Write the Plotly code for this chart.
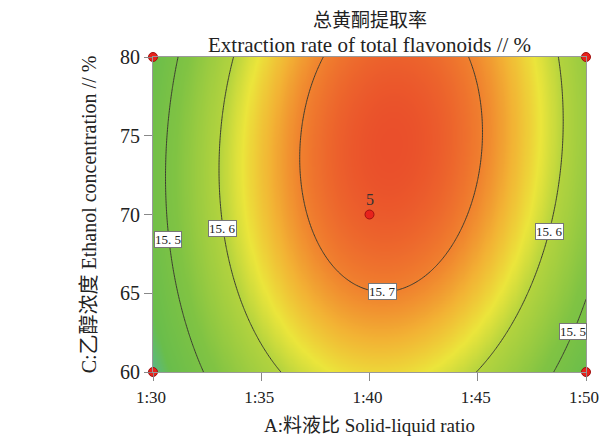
import numpy as np
import plotly.graph_objects as go

# ---- data ----
x_ticks = [30, 35, 40, 45, 50]
x_ticklabels = ["1:30", "1:35", "1:40", "1:45", "1:50"]
y_ticks = [60, 65, 70, 75, 80]

# fitted quadratic response-surface model (coded factors A, C)
b0, bA, bC, bAC, bAA, bCC = 15.729, 0.0365, 0.0384, 0.0178, -0.2221, -0.0457

contour_levels = [15.5, 15.6, 15.7]

design_x = [30, 30, 50, 50, 40]
design_y = [60, 80, 60, 80, 70]
center_reps = "5"

# label anchors: (level, y-value, side)
label_specs = [(15.5, 68.4, "left"), (15.6, 69.1, "left"), (15.7, 65.6, "bottom"),
               (15.6, 68.9, "right"), (15.5, 62.6, "right")]


def model(x, y):
    A = (x - 40) / 10
    C = (y - 70) / 10
    return b0 + bA * A + bC * C + bAC * A * C + bAA * A ** 2 + bCC * C ** 2


# ---- surface ----
xs = np.linspace(30, 50, 201)
ys = np.linspace(60, 80, 201)
X, Y = np.meshgrid(xs, ys)
Z = model(X, Y)

zmin, zmax = 15.38, 15.75
stops = [(15.38, "#4fb4ad"), (15.44, "#69bd4b"), (15.52, "#80c343"),
         (15.60, "#b3d33e"), (15.635, "#ebe53b"), (15.67, "#f2b334"),
         (15.70, "#f0812e"), (15.75, "#e8412a")]
colorscale = [[(v - zmin) / (zmax - zmin), c] for v, c in stops]

serif = "Liberation Serif, Noto Sans CJK SC, serif"
txt = "#222"

fig = go.Figure()
fig.add_trace(go.Heatmap(x=xs, y=ys, z=Z, colorscale=colorscale, zmin=zmin, zmax=zmax,
                         zsmooth="best", showscale=False, hoverinfo="skip"))
fig.add_trace(go.Contour(x=xs, y=ys, z=Z, showscale=False,
                         contours=dict(coloring="none", start=contour_levels[0],
                                       end=contour_levels[-1], size=0.1),
                         line=dict(color="#3c3c30", width=1), hoverinfo="skip"))
fig.add_trace(go.Scatter(x=design_x, y=design_y, mode="markers", cliponaxis=False,
                         marker=dict(color="#e8221c", size=9,
                                     line=dict(color="#a01010", width=1)),
                         hoverinfo="skip", showlegend=False))

# contour labels placed on the model contour
for lvl, yv, side in label_specs:
    d = np.abs(model(xs, yv) - lvl)
    if side == "left":
        xv = xs[np.argmin(np.where(xs < 41, d, 9))]
    elif side == "right":
        xv = xs[np.argmin(np.where(xs > 41, d, 9))]
    else:
        xv = xs[np.argmax(model(xs, yv))]
        col = np.abs(model(xv, ys) - lvl)
        yv = ys[np.argmin(np.where(ys < 72, col, 9))]
    fig.add_annotation(x=xv, y=yv, text=f"{lvl:.1f}".replace(".", ". "), showarrow=False,
                       font=dict(family=serif, size=13, color=txt),
                       bgcolor="white", bordercolor="#777", borderwidth=1, borderpad=0)

fig.add_annotation(x=40, y=70, yshift=15, text=center_reps, showarrow=False,
                   font=dict(family=serif, size=16, color="#333"))

# two-line title
fig.add_annotation(xref="paper", yref="paper", x=0.5, y=1 + 36 / 315, yanchor="middle",
                   text="总黄酮提取率", showarrow=False,
                   font=dict(family=serif, size=19, color=txt))
fig.add_annotation(xref="paper", yref="paper", x=0.5, y=1 + 12 / 315, yanchor="middle",
                   text="Extraction rate of total flavonoids // %", showarrow=False,
                   font=dict(family=serif, size=21, color=txt))
# x-axis title
fig.add_annotation(xref="paper", yref="paper", x=0.5, y=-53 / 315, yanchor="middle",
                   text="A:料液比 Solid-liquid ratio", showarrow=False,
                   font=dict(family=serif, size=19, color=txt))

fig.update_layout(
    width=601, height=436,
    margin=dict(l=153, r=15, t=57, b=64),
    paper_bgcolor="white", plot_bgcolor="white",
    xaxis=dict(range=[30, 50], tickvals=x_ticks, ticktext=x_ticklabels, automargin=False,
               ticks="outside", ticklen=8, tickcolor="#888", showgrid=False, zeroline=False,
               showline=True, linecolor="#999", mirror=True, ticklabelstandoff=2,
               ticklabeloverflow="allow", ticklabelshift=-2,
               tickfont=dict(family=serif, size=17, color=txt)),
    yaxis=dict(range=[60, 80], tickvals=y_ticks, automargin=False,
               ticks="outside", ticklen=8, tickcolor="#888", showgrid=False, zeroline=False,
               showline=True, linecolor="#999", mirror=True,
               tickfont=dict(family=serif, size=20, color=txt),
               title=dict(text="C:乙醇浓度 Ethanol concentration // %", standoff=18,
                          font=dict(family=serif, size=20, color=txt))),
    showlegend=False,
)

fig.write_html("out.html")
